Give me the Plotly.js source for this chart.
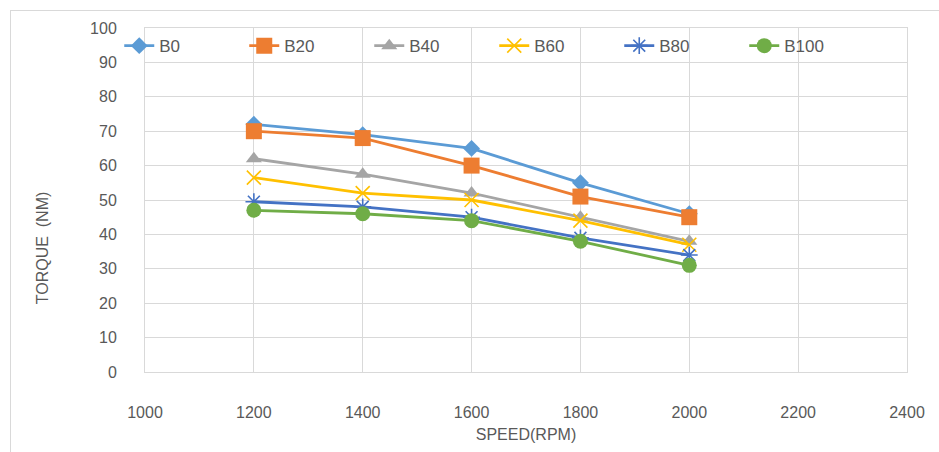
<!DOCTYPE html>
<html>
<head>
<meta charset="utf-8">
<script src="https://cdn.plot.ly/plotly-3.0.1.min.js"></script>
<style>
  html, body { margin: 0; padding: 0; background: #fff; }
  #wrap { position: relative; width: 939px; height: 452px; overflow: hidden; }
  #frame { position: absolute; left: 10px; top: 10px; width: 960px; height: 480px; border: 1px solid #d9d9d9; box-sizing: border-box; }
  #chart { position: absolute; left: 0; top: 0; width: 939px; height: 452px; }
</style>
</head>
<body>
<div id="wrap">
  <div id="frame"></div>
  <div id="chart"></div>
</div>
<script>
// Engine speed (rpm) and torque (N·m) for each blend
const speed = [1200, 1400, 1600, 1800, 2000];
const seriesNames = ["B0", "B20", "B40", "B60", "B80", "B100"];
const B0   = [72, 69, 65, 55, 46];
const B20  = [70, 68, 60, 51, 45];
const B40  = [62, 57.5, 52, 45, 38];
const B60  = [56.5, 52, 50, 44, 37];
const B80  = [49.5, 48, 45, 39, 34];
const B100 = [47, 46, 44, 38, 31];
const xTicks = [1000, 1200, 1400, 1600, 1800, 2000, 2200, 2400];
const yTicks = [0, 10, 20, 30, 40, 50, 60, 70, 80, 90, 100];

const values = [B0, B20, B40, B60, B80, B100];
const colors = ["#5B9BD5", "#ED7D31", "#A5A5A5", "#FFC000", "#4472C4", "#70AD47"];
const symbols = ["diamond", "square", "triangle-up", "x-thin-open", "asterisk-open", "circle"];
const sizes = [13, 16, 14, 14, 14, 15];

const font = "'Liberation Sans Narrow', 'Liberation Sans', Arial, sans-serif";

const traces = seriesNames.map((name, i) => ({
  type: "scatter",
  mode: "lines+markers",
  name: name,
  x: speed,
  y: values[i],
  line: { color: colors[i], width: 2.8 },
  marker: {
    symbol: symbols[i],
    size: sizes[i],
    color: colors[i],
    line: { color: colors[i], width: (symbols[i].endsWith("-open") ? 1.6 : 0) }
  }
}));

const layout = {
  width: 939,
  height: 452,
  paper_bgcolor: "rgba(0,0,0,0)",
  plot_bgcolor: "rgba(0,0,0,0)",
  margin: { l: 145, r: 32, t: 28, b: 80, autoexpand: false },
  font: { family: font, color: "#595959", size: 16 },
  showlegend: true,
  legend: {
    orientation: "h",
    xref: "container", yref: "container",
    x: 0.127, xanchor: "left",
    y: 0.898, yanchor: "middle",
    bgcolor: "rgba(0,0,0,0)",
    font: { family: font, size: 17, color: "#595959" },
    entrywidth: 80, entrywidthmode: "pixels",
    itemwidth: 30,
    traceorder: "normal"
  },
  xaxis: {
    range: [1000, 2400],
    tickvals: xTicks,
    ticktext: xTicks.map(String),
    showgrid: true, gridcolor: "#d9d9d9", gridwidth: 1,
    showline: true, linecolor: "#d9d9d9", mirror: true,
    zeroline: false,
    ticks: "",
    ticklabelstandoff: 26,
    tickfont: { size: 16, color: "#595959" },
    title: { text: "SPEED(RPM)", font: { size: 16, color: "#595959" }, standoff: 8 }
  },
  yaxis: {
    range: [0, 100],
    tickvals: yTicks,
    ticktext: yTicks.map(String),
    showgrid: true, gridcolor: "#d9d9d9", gridwidth: 1,
    showline: true, linecolor: "#d9d9d9", mirror: true,
    zeroline: false,
    ticks: "",
    ticklabelstandoff: 24,
    tickfont: { size: 16, color: "#595959" }
  },
  annotations: [{
    text: "TORQUE  (NM)",
    xref: "paper", yref: "paper",
    x: -0.135, y: 0.36,
    xanchor: "center", yanchor: "middle",
    textangle: -90,
    showarrow: false,
    font: { family: font, size: 16, color: "#595959" }
  }]
};

Plotly.newPlot("chart", traces, layout, { staticPlot: true, displayModeBar: false });
</script>
</body>
</html>
